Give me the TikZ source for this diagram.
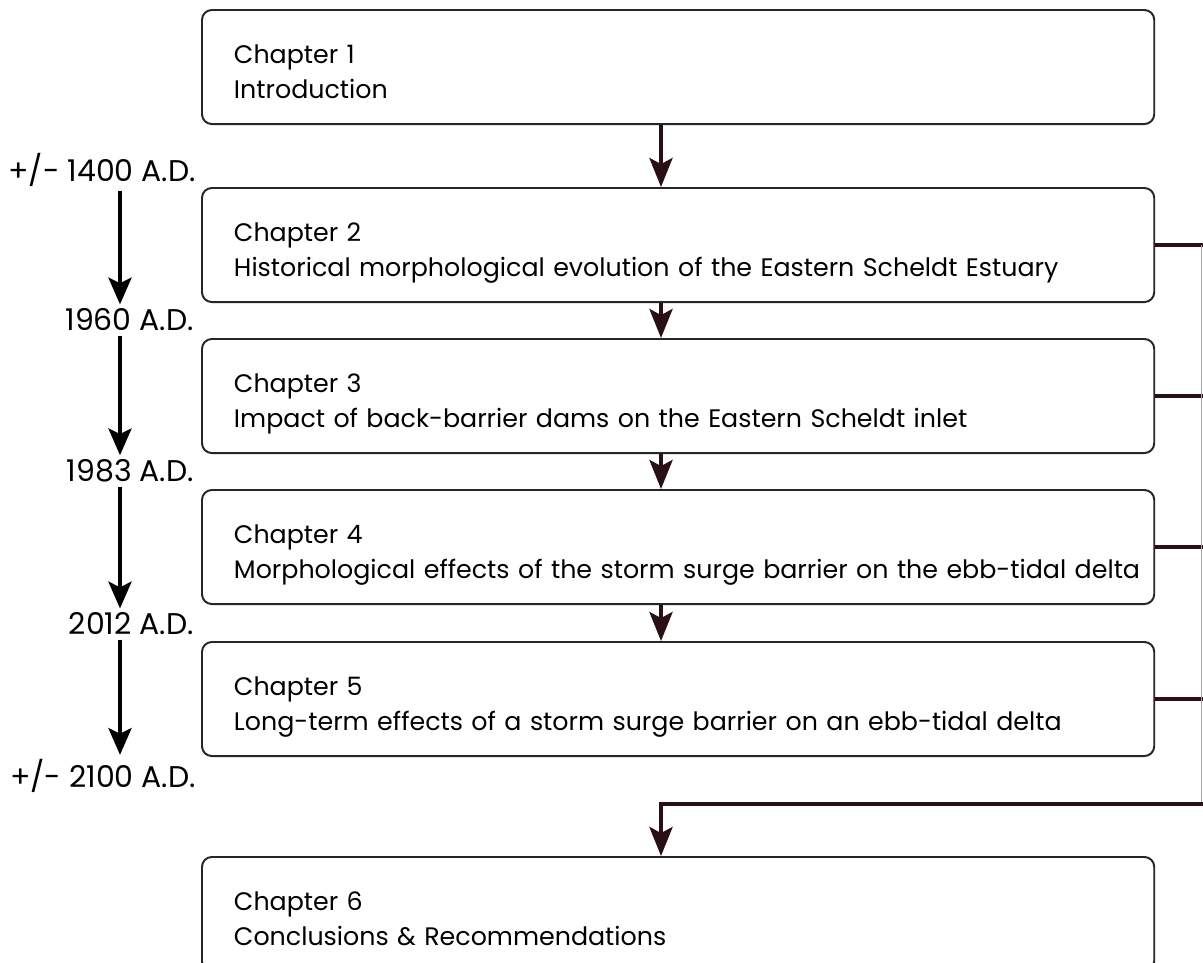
\documentclass[tikz,border=0pt]{standalone}
\usepackage{fontspec}
\setmainfont{Poppins}
\usetikzlibrary{arrows.meta}

\begin{document}
\begin{tikzpicture}[x=0.025cm, y=-0.025cm,
  font=\fontsize{18}{24.2}\selectfont,
  chbox/.style={draw=black!85, line width=1.4pt, rounded corners=7pt,
    anchor=north west, text width=23.4cm, inner xsep=0.2cm, inner ysep=0pt,
    minimum height=2.85cm, align=left,
    execute at begin node={\leftskip=0.6cm\relax\rule{0pt}{38.4pt}},
    execute at end node={\rule[-18.5pt]{0pt}{0pt}}},
  yearlbl/.style={anchor=east, inner xsep=0pt, inner ysep=3pt,
    font=\fontsize{21.3}{24}\selectfont},
  flow/.style={cA, line width=2.85pt,
    -{Stealth[length=20.6pt, width=16.4pt, inset=4.3pt]}},
  era/.style={black, line width=2.85pt,
    -{Stealth[length=19pt, width=16.4pt, inset=4pt]}},
  link/.style={cA, line width=2.85pt},
]

\definecolor{cA}{RGB}{40,16,20}

\useasboundingbox (0,0) rectangle (1203,962);

\coordinate (axis) at (661,0);
\coordinate (tl) at (120,0);
\coordinate (rail) at (1203,0);
\coordinate (join) at (1201,804);

%% chapters
\node[chbox] (ch1) at (201,9)   {Chapter 1\\Introduction};
\node[chbox] (ch2) at (201,187) {Chapter 2\\Historical morphological evolution of the Eastern Scheldt Estuary};
\node[chbox] (ch3) at (201,338) {Chapter 3\\Impact of back-barrier dams on the Eastern Scheldt inlet};
\node[chbox] (ch4) at (201,489) {Chapter 4\\Morphological effects of the storm surge barrier on the ebb-tidal delta};
\node[chbox] (ch5) at (201,641) {Chapter 5\\Long-term effects of a storm surge barrier on an ebb-tidal delta};
\node[chbox] (ch6) at (201,856) {Chapter 6\\Conclusions \& Recommendations};

%% main flow
\draw[flow] (ch1.south -| axis) -- (ch2.north -| axis);
\draw[flow] (ch2.south -| axis) -- (ch3.north -| axis);
\draw[flow] (ch3.south -| axis) -- (ch4.north -| axis);
\draw[flow] (ch4.south -| axis) -- (ch5.north -| axis);

%% chapters 2-5 feed into chapter 6
\foreach \c in {ch2,ch3,ch4,ch5} {
  \draw[link] (\c.east) -- (\c.east -| rail);
}
\draw[black!35, line width=0.7pt] (ch2.east -| join) -- (join);
\draw[flow] (join -| rail) -- (join -| axis) -- (ch6.north -| axis);

%% time line
\node[yearlbl] (y1400) at (196,170) {+/- 1400 A.D.};
\node[yearlbl] (y1960) at (194,320) {1960 A.D.};
\node[yearlbl] (y1983) at (194,471) {1983 A.D.};
\node[yearlbl] (y2012) at (194,624) {2012 A.D.};
\node[yearlbl] (y2100) at (196,776) {+/- 2100 A.D.};

\draw[era] (y1400.south -| tl) -- (y1960.north -| tl);
\draw[era] (y1960.south -| tl) -- (y1983.north -| tl);
\draw[era] (y1983.south -| tl) -- (y2012.north -| tl);
\draw[era] (y2012.south -| tl) -- (y2100.north -| tl);

\end{tikzpicture}
\end{document}
